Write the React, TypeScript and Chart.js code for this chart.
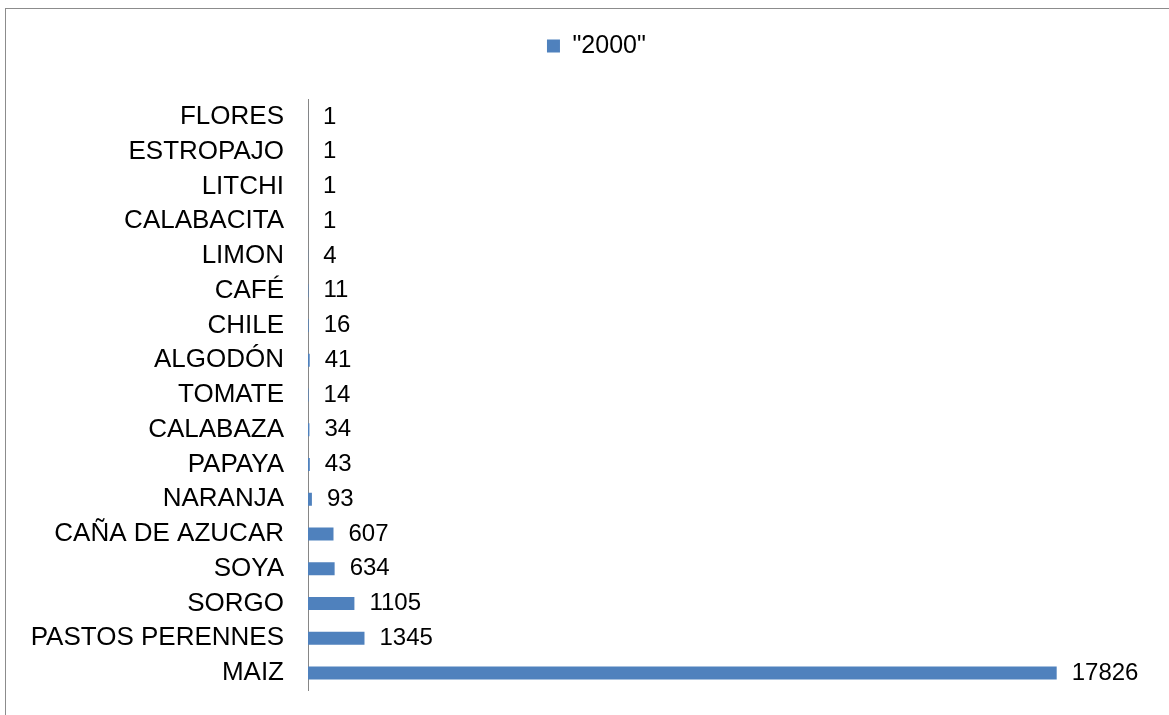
import React, { useEffect, useRef } from 'react';
import { Chart, registerables } from 'chart.js';

Chart.register(...registerables);

const categories = [
  'FLORES',
  'ESTROPAJO',
  'LITCHI',
  'CALABACITA',
  'LIMON',
  'CAFÉ',
  'CHILE',
  'ALGODÓN',
  'TOMATE',
  'CALABAZA',
  'PAPAYA',
  'NARANJA',
  'CAÑA DE AZUCAR',
  'SOYA',
  'SORGO',
  'PASTOS PERENNES',
  'MAIZ',
];
const values2000 = [1, 1, 1, 1, 4, 11, 16, 41, 14, 34, 43, 93, 607, 634, 1105, 1345, 17826];
const seriesLabel = '"2000"';
const xMin = 0;
const xMax = 20000;

const FONT = '"Liberation Sans", Arial, Helvetica, sans-serif';

const valueLabels = {
  id: 'valueLabels',
  afterDatasetsDraw(chart: any) {
    const ctx = chart.ctx;
    ctx.save();
    ctx.font = `24px ${FONT}`;
    ctx.fillStyle = '#000000';
    ctx.textAlign = 'left';
    ctx.textBaseline = 'middle';
    chart.data.datasets.forEach((ds: any, di: number) => {
      const meta = chart.getDatasetMeta(di);
      meta.data.forEach((bar: any, i: number) => {
        ctx.fillText(String(ds.data[i]), bar.x + 15, bar.y);
      });
    });
    ctx.restore();
  },
};

const legendSpacer = {
  id: 'legendSpacer',
  afterInit(chart: any) {
    const legend = chart.legend;
    if (!legend || legend.__spaced) return;
    const orig = legend.fit;
    legend.fit = function () {
      orig.call(this);
      if (this.height > 0) this.height += 31;
    };
    legend.__spaced = true;
  },
};

export default function App() {
  const ref = useRef<HTMLCanvasElement | null>(null);

  useEffect(() => {
    if (!ref.current) return;
    const chart = new Chart(ref.current, {
      type: 'bar',
      data: {
        labels: categories,
        datasets: [
          {
            label: seriesLabel,
            data: values2000,
            backgroundColor: '#4F81BD',
            borderWidth: 0,
            barPercentage: 0.375,
            categoryPercentage: 1,
          },
        ],
      },
      options: {
        indexAxis: 'y',
        responsive: false,
        animation: false,
        events: [],
        layout: {
          padding: { top: 10, left: 44.8, right: 21, bottom: 24.6 },
        },
        plugins: {
          legend: {
            display: true,
            position: 'top',
            align: 'center',
            labels: {
              boxWidth: 13,
              boxHeight: 13,
              padding: 23.5,
              color: '#000000',
              font: { family: FONT, size: 25 },
            },
          },
          tooltip: { enabled: false },
          title: { display: false },
        },
        scales: {
          x: {
            display: false,
            min: xMin,
            max: xMax,
          },
          y: {
            grid: { display: false, drawTicks: false },
            border: { display: true, color: '#868686', width: 1 },
            ticks: {
              autoSkip: false,
              color: '#000000',
              padding: 24,
              font: { family: FONT, size: 26 },
            },
            afterFit(scale: any) {
              scale.width = 263.2;
              scale.paddingTop = 0;
              scale.paddingBottom = 0;
              scale._computeLabelArea = () => undefined;
            },
          },
        },
      } as any,
      plugins: [legendSpacer, valueLabels],
    });
    return () => chart.destroy();
  }, []);

  return (
    <div
      style={{
        position: 'fixed',
        left: 0,
        top: 0,
        width: 1169,
        height: 715,
        background: '#ffffff',
        overflow: 'hidden',
      }}
    >
      <div
        style={{
          position: 'absolute',
          left: 5,
          top: 8,
          width: 1300,
          height: 900,
          borderTop: '1px solid #8c8c8c',
          borderLeft: '1px solid #8c8c8c',
          boxSizing: 'border-box',
        }}
      />
      <canvas
        ref={ref}
        width={1169}
        height={715}
        style={{ position: 'absolute', left: 0, top: 0, width: 1169, height: 715 }}
      />
    </div>
  );
}
